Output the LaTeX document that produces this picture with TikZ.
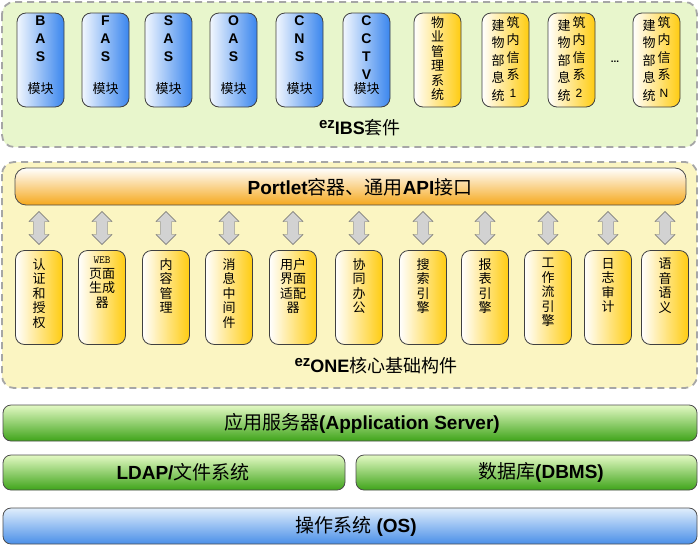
\documentclass[tikz,border=0pt]{standalone}
\usepackage{fontspec}
\setmainfont{Liberation Sans}
\newfontfamily\cjk{Noto Sans CJK SC}
\usetikzlibrary{shapes.arrows}
\definecolor{suitebg}{HTML}{E8F6CC}
\definecolor{corebg}{HTML}{FBF5C2}
\definecolor{mblue}{HTML}{3A86EE}
\definecolor{mbl}{HTML}{F2F7FE}
\definecolor{mgold}{HTML}{FFCC10}
\definecolor{ogold}{HTML}{F5A81C}
\definecolor{gdark}{HTML}{3FA41A}
\definecolor{glight}{HTML}{E3F9C4}
\definecolor{bdark}{HTML}{4A8FE8}
\definecolor{blight}{HTML}{E0EEFC}
\begin{document}
\begin{tikzpicture}[x=1pt,y=-1pt,
  panel/.style={draw=gray!70,dashed,line width=1.8pt,dash pattern=on 7pt off 5pt,rounded corners=12pt},
  bmod/.style={draw=black!75,line width=0.8pt,rounded corners=9pt,left color=mbl,right color=mblue,minimum width=47pt,minimum height=94pt,inner sep=0pt},
  ymod/.style={draw=black!75,line width=0.8pt,rounded corners=9pt,left color=white,right color=mgold,minimum width=47pt,minimum height=94pt,inner sep=0pt},
  gbar/.style={draw=black!70,line width=0.8pt,rounded corners=8pt,top color=glight,bottom color=gdark,inner sep=0pt},
  mtxt/.style={font=\cjk\fontsize{13}{14.5}\selectfont,align=center,anchor=north,inner sep=0pt},
  ttxt/.style={font=\cjk\fontsize{13}{17.5}\selectfont,align=center,anchor=north,inner sep=0pt},
  ltxt/.style={font=\bfseries\fontsize{14}{18}\selectfont,align=center,anchor=north,inner sep=0pt},
  bartxt/.style={font=\bfseries\fontsize{19}{21}\selectfont},
  dar/.style={double arrow,shape border rotate=90,draw=gray!80!black,fill=gray!35,minimum height=33pt,minimum width=20pt,double arrow head extend=2pt,inner sep=2.5pt}
]
\useasboundingbox (0,0) rectangle (700,549);
% ===== suite panel =====
\draw[panel,fill=suitebg] (2,2) rectangle (697,147);
\foreach \n/\x/\p/\q/\r in {bas/17/B/A/S,fas/82/F/A/S,sas/145/S/A/S,oas/210/O/A/S,cns/276/C/N/S}{
  \node[bmod] (\n) at (\x+23.5,60) {};
  \node[ltxt] at (\x+23.5,16) {\p\\\q\\\r};
  \node[mtxt] at (\x+23.5,82) {模块};
}
\node[bmod] (cctv) at (366.5,60) {};
\node[ltxt] at (366.5,16) {C\\C\\T\\V};
\node[mtxt] at (366.5,82) {模块};
\node[ymod] (wy) at (437.5,60) {};
\node[mtxt] at (437.5,16) {物\\业\\管\\理\\系\\统};
\foreach \n/\x/\k in {jz1/482/1,jz2/548/2,jzn/633/N}{
  \node[ymod] (\n) at (\x+23.5,60) {};
  \node[ttxt] at (\x+16,19) {建\\物\\部\\息\\统};
  \node[ttxt] at (\x+31,16) {筑\\内\\信\\系\\\textrm{\fontsize{12}{14}\selectfont\k}};
}
\node[font=\bfseries] (dots) at (615,62) {\textbf{...}};
\node[inner sep=0pt] (suite) at (360,128) {\raisebox{6pt}{\bfseries\fontsize{15}{17}\selectfont ez}\bfseries\fontsize{18}{20}\selectfont IBS{\cjk\mdseries 套件}};
% ===== core panel =====
\draw[panel,fill=corebg] (2,162) rectangle (697,388);
\node[draw=black!70,line width=0.8pt,rounded corners=11pt,top color=white,bottom color=ogold,minimum width=671pt,minimum height=37pt,inner sep=0pt] (portlet) at (350.5,186.5) {};
\node[bartxt] at (360,187) {Portlet{\cjk\mdseries 容器、通用}API{\cjk\mdseries 接口}};
\foreach \n/\x/\t in {c1/15/认\\证\\和\\授\\权, c3/142/内\\容\\管\\理, c4/205/消\\息\\中\\间\\件, c6/335/协\\同\\办\\公, c7/399/搜\\索\\引\\擎, c8/461/报\\表\\引\\擎, c9/524/工\\作\\流\\引\\擎, c10/584/日\\志\\审\\计, c11/641/语\\音\\语\\义}{
  \node[ymod] (\n) at (\x+24,297.5) {};
  \node[mtxt] at (\x+24,258) {\t};
  \node[dar] at (\x+24,228) {};
}
\node[ymod] (c2) at (102,297.5) {};
\node[mtxt] at (102,257) {{\ttfamily\fontsize{11}{12}\selectfont WEB}\\页面\\生成\\器};
\node[dar] at (102,228) {};
\node[ymod] (c5) at (293,297.5) {};
\node[mtxt] at (293,258) {用户\\界面\\适配\\器};
\node[dar] at (293,228) {};
\node[inner sep=0pt] (one) at (376,366) {\raisebox{6pt}{\bfseries\fontsize{15}{17}\selectfont ez}\bfseries\fontsize{18}{20}\selectfont ONE{\cjk\mdseries 核心基础构件}};
% ===== bottom bars =====
\node[gbar,minimum width=694pt,minimum height=36pt] (app) at (350,423) {};
\node[bartxt] at (362,423) {{\cjk\mdseries 应用服务器}(Application Server)};
\node[gbar,minimum width=342pt,minimum height=35pt] (ldap) at (174,472.5) {};
\node[bartxt] at (183,472.5) {LDAP/{\cjk\mdseries 文件系统}};
\node[gbar,minimum width=341pt,minimum height=35pt] (db) at (526.5,472.5) {};
\node[bartxt] at (541,472.5) {{\cjk\mdseries 数据库}(DBMS)};
\node[draw=black!70,line width=0.8pt,rounded corners=8pt,top color=blight,bottom color=bdark,minimum width=694pt,minimum height=36pt,inner sep=0pt] (os) at (350,526) {};
\node[bartxt] at (356,526) {{\cjk\mdseries 操作系统} (OS)};
\end{tikzpicture}
\end{document}
